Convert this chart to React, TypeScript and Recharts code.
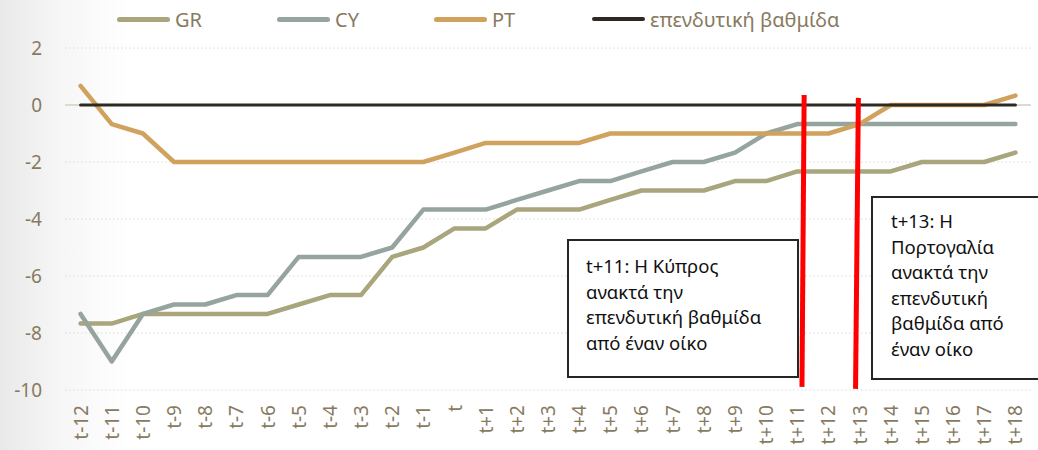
import React from "react";
import { LineChart, Line, XAxis, YAxis, CartesianGrid, ReferenceLine } from "recharts";

const periods = [
  "t-12","t-11","t-10","t-9","t-8","t-7","t-6","t-5","t-4","t-3","t-2","t-1","t",
  "t+1","t+2","t+3","t+4","t+5","t+6","t+7","t+8","t+9","t+10","t+11","t+12","t+13","t+14","t+15","t+16","t+17","t+18",
];
const grValues = [-7.67,-7.67,-7.33,-7.33,-7.33,-7.33,-7.33,-7,-6.67,-6.67,-5.33,-5,-4.33,
  -4.33,-3.67,-3.67,-3.67,-3.33,-3,-3,-3,-2.67,-2.67,-2.33,-2.33,-2.33,-2.33,-2,-2,-2,-1.67];
const cyValues = [-7.33,-9,-7.33,-7,-7,-6.67,-6.67,-5.33,-5.33,-5.33,-5,-3.67,-3.67,
  -3.67,-3.33,-3,-2.67,-2.67,-2.33,-2,-2,-1.67,-1,-0.67,-0.67,-0.67,-0.67,-0.67,-0.67,-0.67,-0.67];
const ptValues = [0.67,-0.67,-1,-2,-2,-2,-2,-2,-2,-2,-2,-2,-1.67,
  -1.33,-1.33,-1.33,-1.33,-1,-1,-1,-1,-1,-1,-1,-1,-0.67,0,0,0,0,0.33];
const igValues = periods.map(() => 0);
const yTicks = [-10, -8, -6, -4, -2, 0, 2];

const seriesNames = ["GR", "CY", "PT", "επενδυτική βαθμίδα"];
const seriesKeys = ["gr", "cy", "pt", "ig"];
const seriesColors = ["#A9A57D", "#95A59D", "#D0A25E", "#2D2A24"];

// red markers (x in category index units, y in value units)
const marker1 = [{ x: 23.22, y: 0.35 }, { x: 23.15, y: -9.89 }];
const marker2 = [{ x: 24.96, y: 0.25 }, { x: 24.87, y: -9.96 }];
const note1 = ["t+11: Η Κύπρος", "ανακτά την", "επενδυτική βαθμίδα", "από έναν οίκο"];
const note2 = ["t+13: Η", "Πορτογαλία", "ανακτά την", "επενδυτική", "βαθμίδα από", "έναν οίκο"];

const rows = periods.map((p, i) => ({
  i,
  label: p,
  gr: grValues[i],
  cy: cyValues[i],
  pt: ptValues[i],
  ig: igValues[i],
}));

const FONT = "'Noto Sans', 'DejaVu Sans', sans-serif";
const TEXT = "#877A5F";

const XTick = (props: any) => {
  const { x, y, payload } = props;
  return (
    <text
      x={x}
      y={y}
      transform={`rotate(-90 ${x} ${y})`}
      textAnchor="end"
      dominantBaseline="central"
      fill={TEXT}
      fontSize={19}
      fontFamily={FONT}
    >
      {periods[payload.value]}
    </text>
  );
};

const legendLefts = [117, 277, 434, 592];

export default function App() {
  return (
    <div
      style={{
        position: "absolute",
        left: 0,
        top: 0,
        width: 1038,
        height: 450,
        overflow: "hidden",
        fontFamily: FONT,
        background: "linear-gradient(90deg, #e9e9e9 0px, #f6f6f6 60px, #ffffff 130px)",
      }}
    >
      <LineChart width={1038} height={450} data={rows} margin={{ top: 48, right: 7, left: 0, bottom: 5 }}>
        <CartesianGrid vertical={false} stroke="#DADADA" strokeDasharray="1.5 2.5" />
        <XAxis
          type="number"
          dataKey="i"
          domain={[-0.5, 30.5]}
          ticks={periods.map((_, i) => i)}
          interval={0}
          height={55}
          tickLine={false}
          axisLine={false}
          tickSize={6}
          tickMargin={9}
          tick={<XTick />}
        />
        <YAxis
          domain={[-10, 2]}
          ticks={yTicks}
          width={65}
          tickLine={false}
          axisLine={false}
          tickSize={6}
          tickMargin={17}
          tick={{ fill: TEXT, fontSize: 19, fontFamily: FONT }}
        />
        <ReferenceLine y={0} stroke="#DDDAD2" strokeWidth={2} />
        {seriesKeys.map((k, idx) => (
          <Line
            key={k}
            type="linear"
            dataKey={k}
            name={seriesNames[idx]}
            stroke={seriesColors[idx]}
            strokeWidth={idx === 3 ? 3 : 4.5}
            strokeLinejoin="round"
            strokeLinecap="round"
            dot={false}
            activeDot={false}
            isAnimationActive={false}
          />
        ))}
        <ReferenceLine segment={marker1} stroke="#FF0000" strokeWidth={5} />
        <ReferenceLine segment={marker2} stroke="#FF0000" strokeWidth={5} />
      </LineChart>

      {seriesNames.map((n, idx) => (
        <div
          key={n}
          style={{
            position: "absolute",
            left: legendLefts[idx],
            top: 5,
            height: 28,
            display: "flex",
            alignItems: "center",
            whiteSpace: "nowrap",
          }}
        >
          <div
            style={{
              width: 53,
              height: idx === 3 ? 4 : 5,
              borderRadius: 3,
              background: seriesColors[idx],
              marginRight: 5,
            }}
          />
          <span style={{ color: TEXT, fontSize: 20 }}>{n}</span>
        </div>
      ))}

      <div
        style={{
          position: "absolute",
          left: 567,
          top: 239,
          width: 232,
          height: 139,
          boxSizing: "border-box",
          border: "2px solid #262626",
          background: "#ffffff",
          padding: "12px 0 0 17px",
          fontSize: 18.5,
          lineHeight: "25.5px",
          color: "#111",
        }}
      >
        {note1.map((l) => (
          <div key={l}>{l}</div>
        ))}
      </div>
      <div
        style={{
          position: "absolute",
          left: 871,
          top: 196,
          width: 200,
          height: 184,
          boxSizing: "border-box",
          border: "2px solid #262626",
          background: "#ffffff",
          padding: "10px 0 0 18px",
          fontSize: 18.5,
          lineHeight: "25.5px",
          color: "#111",
        }}
      >
        {note2.map((l) => (
          <div key={l}>{l}</div>
        ))}
      </div>
    </div>
  );
}
